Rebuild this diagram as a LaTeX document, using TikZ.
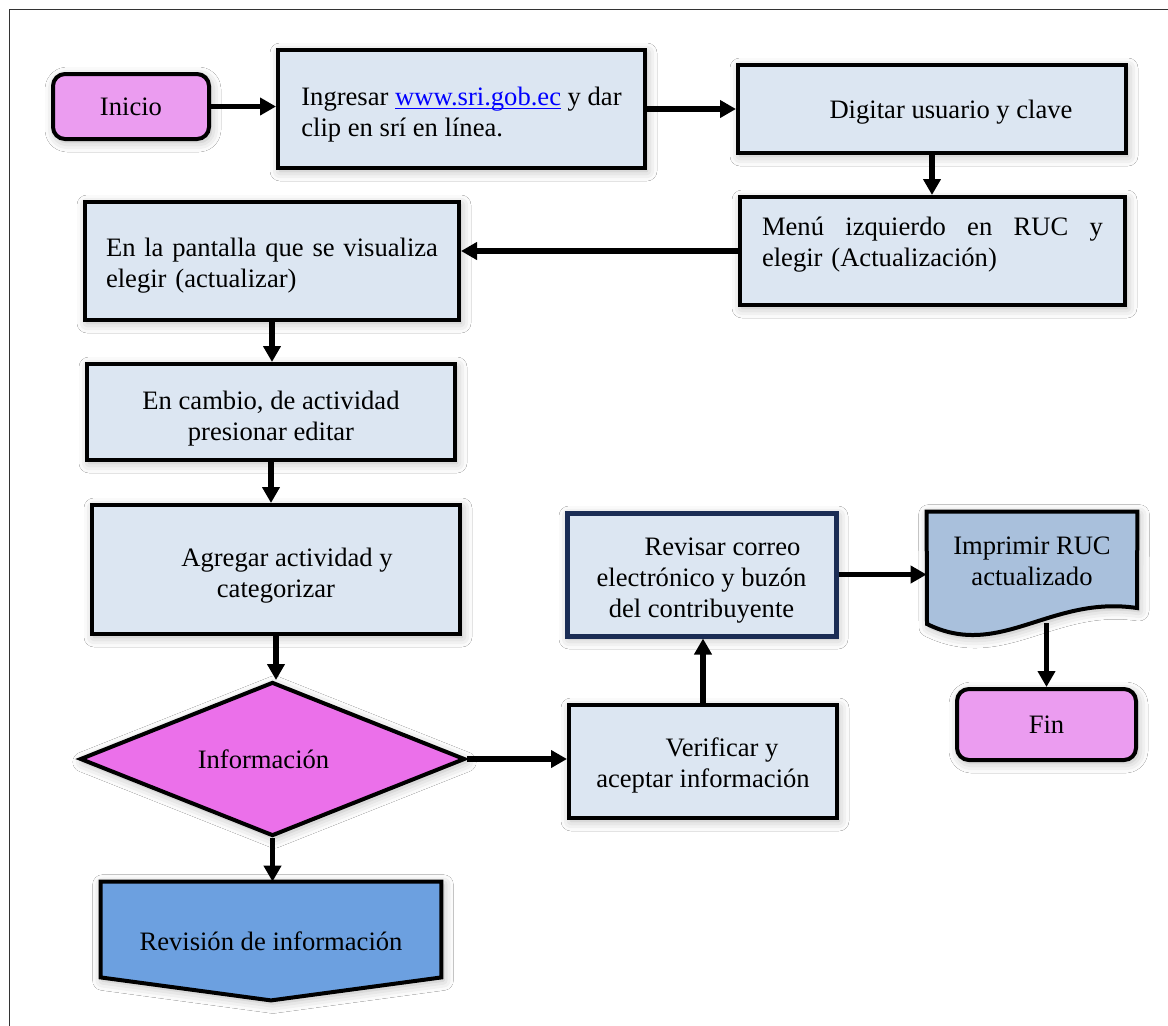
\documentclass[tikz,border=0pt]{standalone}
\usepackage{fontspec}
\setmainfont{Liberation Serif}
\usetikzlibrary{shapes.geometric,arrows.meta,shadows.blur,backgrounds}

\definecolor{lila}{HTML}{EB9CF0}
\definecolor{celeste}{HTML}{DCE6F2}
\definecolor{magenta}{HTML}{EB70EA}
\definecolor{acero}{HTML}{A9C0DC}
\definecolor{azul}{HTML}{6CA0E0}
\definecolor{marino}{HTML}{1B2D55}

\begin{document}
\begin{tikzpicture}[x=0.5pt,y=-0.5pt,
    sombra/.style={blur shadow={shadow xshift=1pt,shadow yshift=-1.5pt,
        shadow blur radius=5pt,shadow opacity=30}},
    font=\fontsize{13.3pt}{15.5pt}\selectfont]

        \useasboundingbox (0,0) rectangle (1168,1025);

        \begin{scope}[every node/.style={draw,line width=2pt,fill=celeste,sombra,inner sep=0pt}]
          \node[rounded corners=6pt,fill=lila,minimum width=78pt,minimum height=32.5pt]
               (inicio) at (131,106.5) {Inicio};
          \node[minimum width=183.5pt,minimum height=59pt,align=left]
               (ingresar) at (461.5,109)
               {\rule{0pt}{15pt}Ingresar \textcolor{blue}{\underline{\smash{www.sri.gob.ec}}} y dar\\clip en srí en línea.};
          \node[minimum width=194pt,minimum height=44pt]
               (digitar) at (932,109) {\hspace*{19pt}\rule{0pt}{12.3pt}Digitar usuario y clave};
          \node[minimum width=192.5pt,minimum height=54pt,text width=170.5pt,align=left]
               (menu) at (932.5,251)
               {Menú\hfill izquierdo\hfill en\hfill RUC\hfill y\\elegir (Actualización)\rule[-9pt]{0pt}{0pt}};
          \node[minimum width=187pt,minimum height=59pt,text width=166pt,align=left]
               (pantalla) at (272,261)
               {\rule{0pt}{13.8pt}En\hfill la\hfill pantalla\hfill que\hfill se\hfill visualiza\\elegir (actualizar)};
          \node[minimum width=184pt,minimum height=48pt,align=center]
               (cambio) at (271,412) {\rule{0pt}{15.8pt}En cambio, de actividad\\presionar editar};
          \node[minimum width=184pt,minimum height=64.5pt,align=center]
               (agregar) at (276,569.5) {\hspace*{11pt}\rule{0pt}{15pt}Agregar actividad y\\categorizar};
          \node[diamond,aspect=2.5,fill=magenta,minimum width=192.5pt,minimum height=77pt]
               (info) at (272.5,759) {\hspace*{-9pt}Información};
          \node[minimum width=134pt,minimum height=56.5pt,align=center]
               (verificar) at (703,761.5) {\hspace*{19pt}\rule{0pt}{13.3pt}Verificar y\\aceptar información};
          \node[draw=marino,line width=2.5pt,minimum width=134.5pt,minimum height=61.5pt,align=center]
               (revisar) at (701.5,574.5)
               {\hspace*{21pt}\rule{0pt}{15pt}Revisar correo\\electrónico y buzón\\del contribuyente};
          \node[rounded corners=6pt,fill=lila,minimum width=89.5pt,minimum height=35.5pt]
               (fin) at (1046.5,724.5) {Fin};
        \end{scope}

        % documento y conector fuera de pagina
        \node[minimum width=105pt,minimum height=49.5pt,inner sep=0pt,align=center]
             (imprimir) at (1032,561.5) {Imprimir RUC\\actualizado};
        \node[minimum width=170pt,minimum height=59pt,inner sep=0pt]
             (revision) at (271,941) {Revisión de información};

        \begin{scope}[on background layer]
          \fill[white] (0,0) rectangle (1168,1025);
          \draw[line width=0.8pt,black!80] (9.5,1040) -- (9.5,9.5) -- (1180,9.5);
          \draw[line width=2pt,sombra,fill=acero] (imprimir.north west) -- (imprimir.north east)
               -- (1137,608) .. controls (1050,595) and (1000,660) .. (927,624) -- cycle;
          \draw[line width=2pt,sombra,fill=azul] (revision.north west) -- (revision.north east)
               -- ([yshift=11.5pt]revision.south east) -- (revision.south)
               -- ([yshift=11.5pt]revision.south west) -- cycle;
        \end{scope}

        \begin{scope}[every edge/.style={draw,line width=2.6pt,-{Triangle[length=8pt,width=8.5pt]}}]
          \path (inicio.east)     edge (inicio.east -| ingresar.west);
          \path (ingresar.east)   edge (ingresar.east -| digitar.west);
          \path (digitar.south)   edge (digitar.south |- menu.north);
          \path (menu.west)       edge (menu.west -| pantalla.east);
          \path (pantalla.south)  edge (pantalla.south |- cambio.north);
          \path (cambio.south)    edge (cambio.south |- agregar.north);
          \path (agregar.south)   edge (agregar.south |- info.north);
          \path (info.east)       edge (info.east -| verificar.west);
          \path (verificar.north) edge (verificar.north |- revisar.south);
          \path (revisar.east)    edge (revisar.east -| imprimir.west);
          \path ([yshift=-6pt]imprimir.south -| fin.north) edge (fin.north);
          \path (info.south)      edge (info.south |- revision.north);
        \end{scope}

      \end{tikzpicture}
\end{document}
